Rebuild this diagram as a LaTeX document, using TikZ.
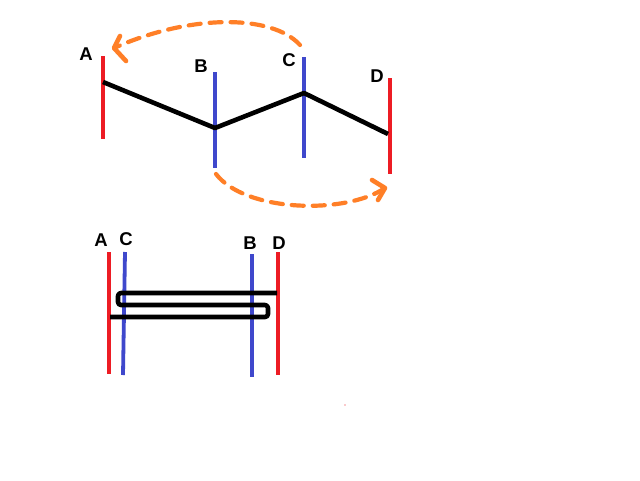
\documentclass[tikz,border=0pt]{standalone}
\usepackage{fontspec}
\setmainfont{Liberation Sans}
\definecolor{pred}{RGB}{237,28,36}
\definecolor{pblue}{RGB}{63,72,204}
\definecolor{porange}{RGB}{255,127,39}
\begin{document}
\begin{tikzpicture}[x=1pt,y=-1pt,
  redbar/.style={pred,line width=3.8pt},
  bluebar/.style={pblue,line width=3.8pt},
  link/.style={black,line width=4.6pt,line join=round},
  hop/.style={porange,line width=4.2pt,dash pattern=on 12pt off 9pt,line cap=round},
  hophead/.style={porange,line width=4.6pt,line cap=round,line join=round},
  lbl/.style={font=\bfseries\fontsize{18.5}{18.5}\selectfont,inner sep=0pt}]
\fill[white] (0,0) rectangle (640,480);
\useasboundingbox (0,0) rectangle (640,480);

% ---------- top figure ----------
\coordinate (At) at (103,56);  \coordinate (Ab) at (103,139);
\coordinate (Bt) at (215,72);  \coordinate (Bb) at (215,168);
\coordinate (Ct) at (304,57);  \coordinate (Cb) at (304,158);
\coordinate (Dt) at (390,78);  \coordinate (Db) at (390,174);
\coordinate (Aj) at (103,82);
\coordinate (Bj) at (215,128);
\coordinate (Cj) at (304,93);
\coordinate (Dj) at (388,134);

\draw[redbar] (At) -- (Ab);
\draw[bluebar] (Bt) -- (Bb);
\draw[bluebar] (Ct) -- (Cb);
\draw[redbar] (Dt) -- (Db);
\draw[link] (Aj) -- (Bj) -- (Cj) -- (Dj);

\node[lbl] (lA) at (86,54) {A};
\node[lbl] (lB) at (201,66) {B};
\node[lbl] (lC) at (289,60) {C};
\node[lbl] (lD) at (377,76) {D};

\coordinate (h1s) at (300,45);
\coordinate (h1e) at (114,48);
\draw[hop] (h1s) .. controls (272,14) and (190,14) .. (h1e);
\draw[hophead] (120,36) -- (h1e) -- (126,61);

\coordinate (h2s) at (216,174);
\coordinate (h2e) at (385,188);
\draw[hop] (h2s) .. controls (245,212) and (345,215) .. (h2e);
\draw[hophead] (372,180) -- (h2e) -- (378,200);

% ---------- bottom figure ----------
\coordinate (at) at (109,252); \coordinate (ab) at (109,374);
\coordinate (ct) at (125,252); \coordinate (cb) at (123,375);
\coordinate (bt) at (252,254); \coordinate (bb) at (252,377);
\coordinate (dt) at (278,252); \coordinate (db) at (278,375);

\draw[redbar] (at) -- (ab);
\draw[bluebar] (ct) -- (cb);
\draw[bluebar] (bt) -- (bb);
\draw[redbar] (dt) -- (db);

\coordinate (s0) at (277,293);
\coordinate (s1) at (118,293);
\coordinate (s2) at (118,305);
\coordinate (s3) at (268,305);
\coordinate (s4) at (268,317);
\coordinate (s5) at (110,317);
\draw[link,rounded corners=3pt] (s0) -- (s1) -- (s2) -- (s3) -- (s4) -- (s5);

\node[lbl] (la) at (101,240) {A};
\node[lbl] (lc) at (126,239) {C};
\node[lbl] (lb) at (250,243) {B};
\node[lbl] (ld) at (279,243) {D};

\fill[pred] (345,405) circle (0.6pt);
\end{tikzpicture}
\end{document}
